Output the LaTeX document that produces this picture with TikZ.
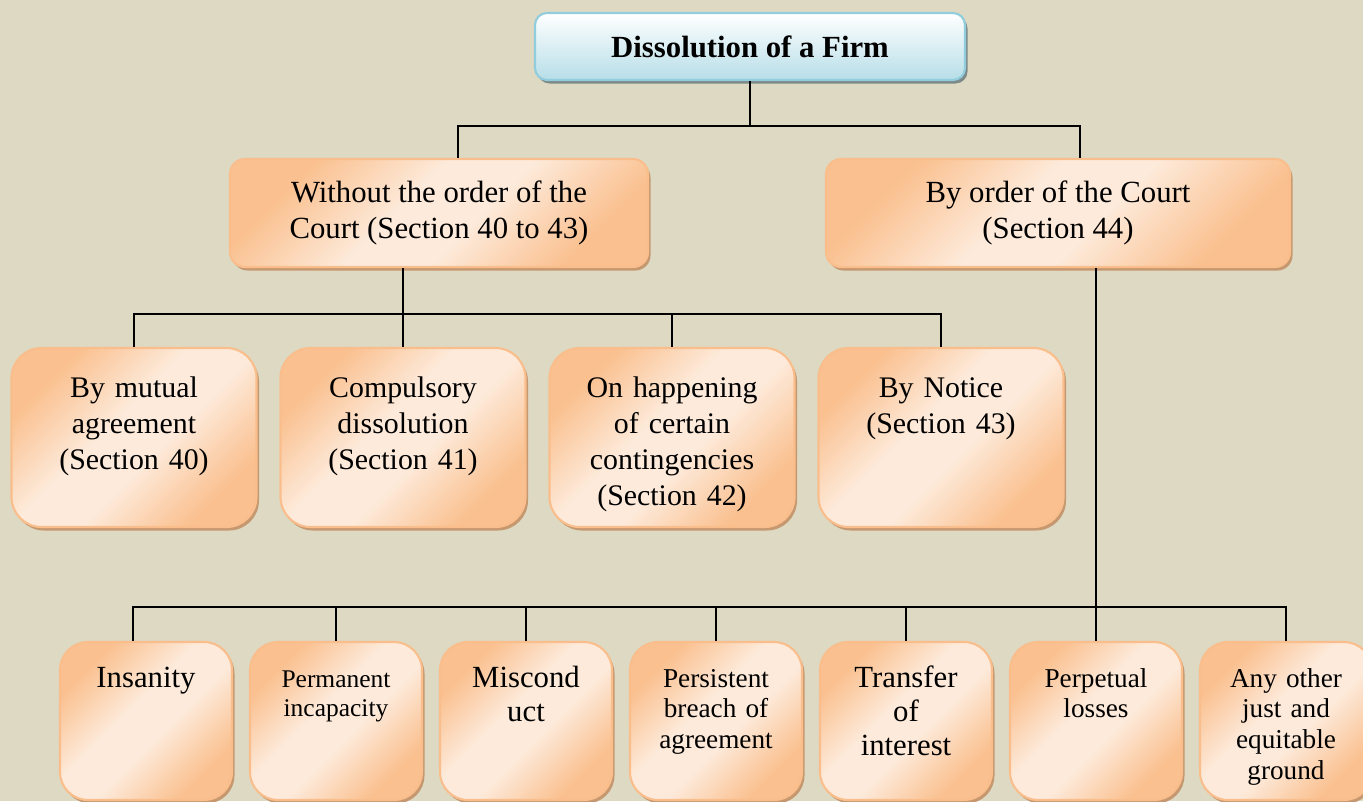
\documentclass[tikz,border=0pt]{standalone}
\usepackage{fontspec}
\setmainfont{Liberation Serif}
\usepackage{tikz}
\usetikzlibrary{positioning,shadows}
\definecolor{bgtan}{RGB}{221,217,195}
\definecolor{peachdark}{RGB}{250,192,143}
\definecolor{peachlight}{RGB}{253,234,218}
\definecolor{peachedge}{RGB}{249,190,140}
\definecolor{peachshadow}{RGB}{198,152,112}
\definecolor{skyedge}{RGB}{146,205,221}
\definecolor{skyfill}{RGB}{183,222,232}
\definecolor{skyshadow}{RGB}{125,138,136}
\pgfdeclarehorizontalshading{peachfill}{100bp}{color(0bp)=(peachdark); color(26bp)=(peachdark); color(44bp)=(peachlight); color(56bp)=(peachlight); color(74bp)=(peachdark); color(100bp)=(peachdark)}
\tikzset{
    wire/.style={
           draw=black, line width=0.85pt,
           },
}
\tikzset{
    headbox/.style={
           rectangle, rounded corners=0.24cm,
           draw=skyedge, line width=1.2pt,
           top color=white, bottom color=skyfill,
           drop shadow={shadow xshift=0.05cm,shadow yshift=-0.07cm,fill=skyshadow,opacity=1},
           minimum width=8.6cm, minimum height=1.34cm,
           font=\bfseries\fontsize{17.5}{21}\selectfont,
           },
}
\tikzset{
    branchbox/.style={
           rectangle, rounded corners=0.3cm,
           draw=peachedge, line width=1.2pt,
           shade, shading=peachfill, shading angle=-45,
           drop shadow={shadow xshift=0.05cm,shadow yshift=-0.07cm,fill=peachshadow,opacity=1},
           minimum height=2.16cm, align=center,
           font=\fontsize{17.5}{20.5}\selectfont,
           },
}
\tikzset{
    modebox/.style={
           rectangle, rounded corners=0.6cm,
           draw=peachedge, line width=1.2pt,
           shade, shading=peachfill, shading angle=-45,
           drop shadow={shadow xshift=0.05cm,shadow yshift=-0.07cm,fill=peachshadow,opacity=1},
           text width=4.9cm, inner xsep=0pt, inner ysep=0pt,
           text height=0.98cm, text depth=2.6cm, align=center,
           node distance=5.38cm,
           font=\fontsize{17}{20.5}\selectfont,
           },
}
\tikzset{
    groundbox/.style={
           rectangle, rounded corners=0.56cm,
           draw=peachedge, line width=1.2pt,
           shade, shading=peachfill, shading angle=-45,
           drop shadow={shadow xshift=0.05cm,shadow yshift=-0.07cm,fill=peachshadow,opacity=1},
           text width=3.44cm, inner xsep=0pt, inner ysep=0pt,
           text height=0.9cm, text depth=2.26cm, align=center,
           node distance=3.8cm,
           font=\fontsize{17.5}{19.5}\selectfont,
           },
}
\newcommand{\smallground}{\fontsize{15.5}{17.5}\selectfont}

\begin{document}
\begin{tikzpicture}
\useasboundingbox (0,0) rectangle (27.26,-16.02);
\fill[bgtan] (0,0) rectangle (27.26,-16.02);
% top of the tree
\node[headbox] (firm) at (15.0,-0.93) {Dissolution of a Firm};
\node[branchbox,minimum width=8.36cm] (without) at (8.78,-4.26) {Without the order of the\\Court (Section 40 to 43)};
\node[branchbox,minimum width=9.28cm] (court) at (21.16,-4.26) {By order of the Court\\(Section 44)};
% modes without the court
\node[modebox] (mutual) at (2.68,-8.75) {By mutual\\agreement\\(Section 40)};
\node[modebox,right of=mutual] (compulsory) {Compulsory\\dissolution\\(Section 41)};
\node[modebox,right of=compulsory] (contingency) {On happening\\of certain\\contingencies\\(Section 42)};
\node[modebox,right of=contingency] (notice) {By Notice\\(Section 43)};
% grounds for the court
\node[groundbox] (insanity) at (2.92,-14.42) {Insanity};
\node[groundbox,right of=insanity,font=\fontsize{14.5}{16.5}\selectfont] (incapacity) {Permanent\\incapacity};
\node[groundbox,right of=incapacity] (misconduct) {Miscond\\uct};
\node[groundbox,right of=misconduct,font=\smallground] (breach) {Persistent\\breach of\\agreement};
\node[groundbox,right of=breach] (transfer) {Transfer\\of\\interest};
\node[groundbox,right of=transfer,font=\smallground] (losses) {Perpetual\\losses};
\node[groundbox,right of=losses,font=\smallground] (equitable) {Any other\\just and\\equitable\\ground};
% connectors
\coordinate[below=0.9cm of firm] (topbus);
\coordinate (midbus) at ([yshift=-0.92cm]without.south);
\coordinate (lowbus) at (0,-12.14);
\draw[wire] (firm) -- (topbus);
\draw[wire] ([xshift=0.38cm]without.north) |- (topbus) -| ([xshift=0.44cm]court.north);
\draw[wire] (without.south -| compulsory) -- (compulsory);
\draw[wire] (mutual) |- (midbus -| notice) -- (notice);
\draw[wire] (midbus -| contingency) -- (contingency);
\draw[wire] (court.south -| losses) -- (losses);
\draw[wire] ([xshift=-0.26cm]insanity.north) |- (lowbus -| equitable) -- (equitable);
\draw[wire] (lowbus -| incapacity) -- (incapacity);
\draw[wire] (lowbus -| misconduct) -- (misconduct);
\draw[wire] (lowbus -| breach) -- (breach);
\draw[wire] (lowbus -| transfer) -- (transfer);
\end{tikzpicture}
\end{document}
